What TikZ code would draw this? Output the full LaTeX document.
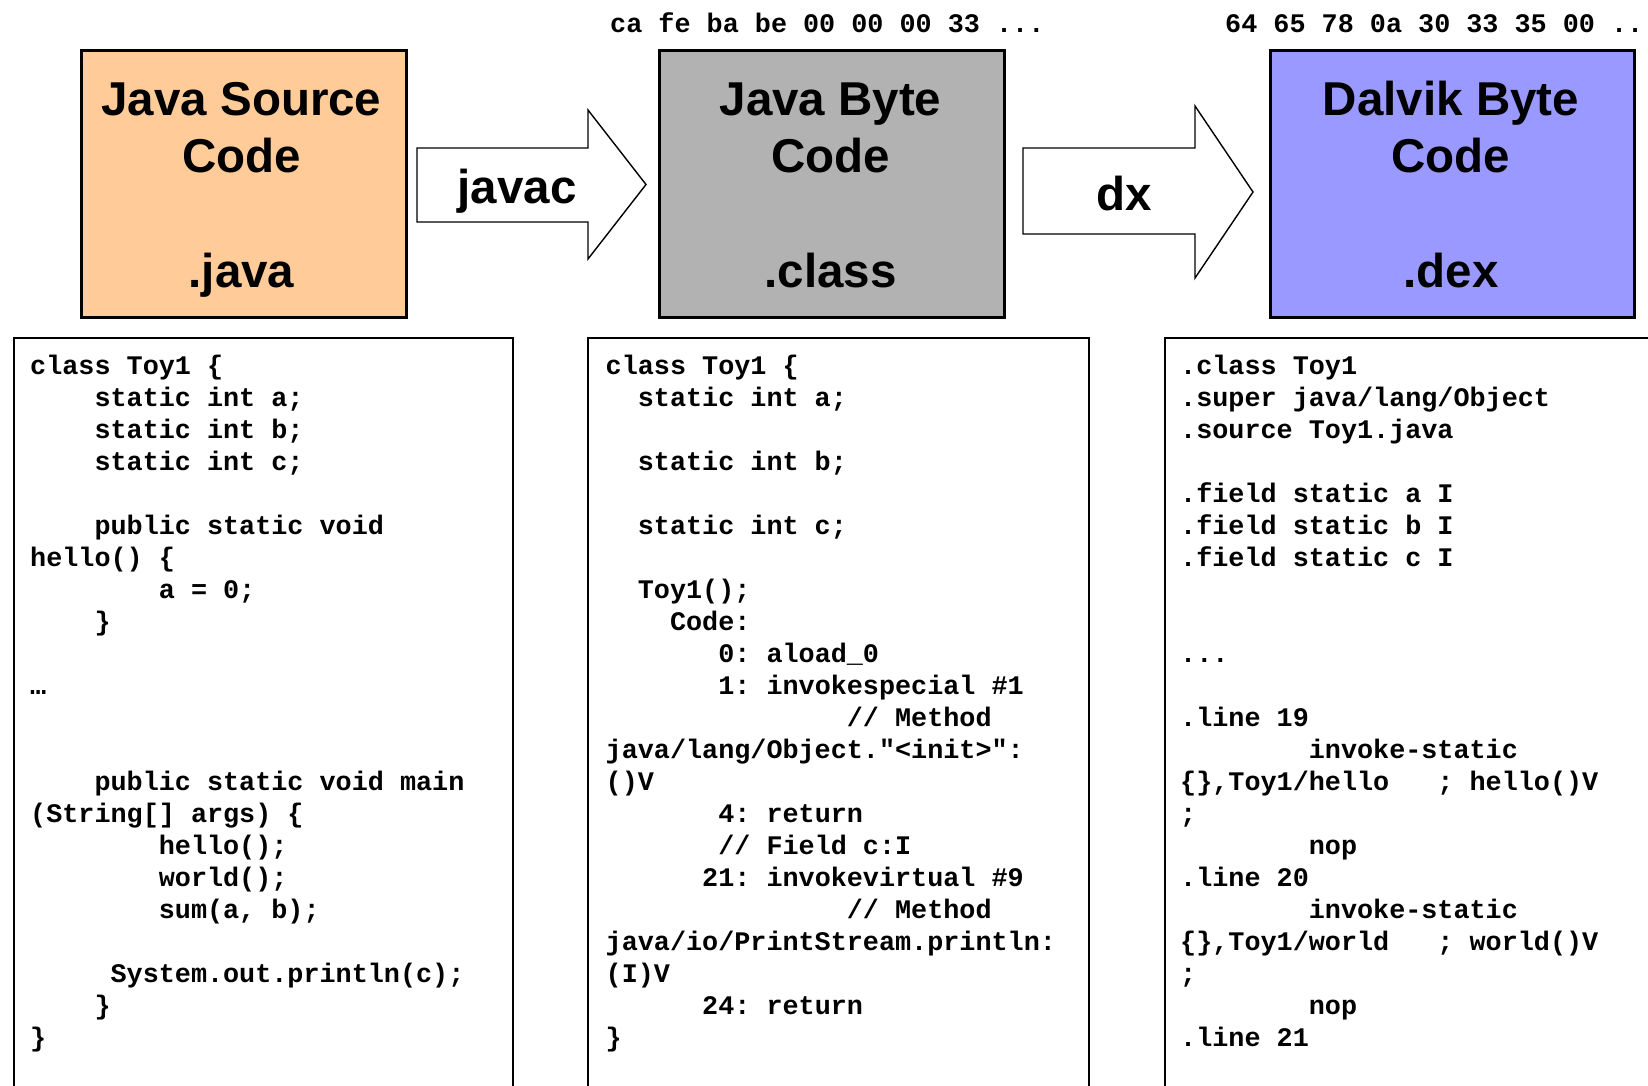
\documentclass[tikz,border=0pt]{standalone}
\usepackage{fontspec}
\setmainfont{Liberation Sans}
\setmonofont{Liberation Mono}
\newfontfamily\headfont{Liberation Sans}
\definecolor{srcfill}{RGB}{255,204,153}
\definecolor{clsfill}{RGB}{178,178,178}
\definecolor{dexfill}{RGB}{153,153,255}
% fixed run of blank character cells
\newcommand\sk[1]{\hspace*{#1\dimexpr 0.6em\relax}}
\tikzset{
  stage/.style={draw=black, line width=3pt, rectangle, inner sep=0pt, anchor=north west},
  title/.style={font=\headfont\bfseries\fontsize{47.5}{57}\selectfont, anchor=base, inner sep=0pt},
  blockarrow/.style={draw=black, line width=1.4pt, fill=white, line join=miter},
  panel/.style={draw=black, line width=1.5pt, rectangle, inner sep=0pt, anchor=north west},
  code/.style={font=\ttfamily\bfseries\fontsize{26.8}{32}\selectfont, anchor=base west, inner sep=0pt},
}
\begin{document}
\begin{tikzpicture}[x=1pt, y=-1pt]
\useasboundingbox (0,0) rectangle (1648,1085);
\clip (0,0) rectangle (1648,1085);

% stage boxes
\node[stage, fill=srcfill, minimum width=325pt, minimum height=267pt] (src) at (80,49) {};
\node[stage, fill=clsfill, minimum width=345pt, minimum height=267pt] (cls) at (658,49) {};
\node[stage, fill=dexfill, minimum width=364pt, minimum height=267pt] (dex) at (1269,49) {};

\node[title] (srct1) at (241.5,115) {Java Source};
\node[title] (srct2) at (241.5,172) {Code};
\node[title] (srct3) at (241.5,287) {.java};
\node[title] (clst1) at (830.5,115) {Java Byte};
\node[title] (clst2) at (830.5,172) {Code};
\node[title] (clst3) at (830.5,287) {.class};
\node[title] (dext1) at (1451,115) {Dalvik Byte};
\node[title] (dext2) at (1451,172) {Code};
\node[title] (dext3) at (1451,287) {.dex};

% compiler arrows
\draw[blockarrow] (417,148) -- (588,148) -- (588,110) -- (646,184.5) -- (588,259) -- (588,222) -- (417,222) -- cycle;
\node[title] (javac) at (517,203) {javac};
\draw[blockarrow] (1023,148) -- (1195,148) -- (1195,106) -- (1253,192) -- (1195,278) -- (1195,234) -- (1023,234) -- cycle;
\node[title] (dx) at (1124,210) {dx};

% file magic bytes
\node[code] (hexcls) at (610,32) {ca fe ba be 00 00 00 33 ...};
\node[code] (hexdex) at (1225,32) {64 65 78 0a 30 33 35 00 ...};

% listing panels (open at the bottom)
\node[panel, minimum width=499pt, minimum height=800pt] (srcpanel) at (13,337) {};
\node[panel, minimum width=501pt, minimum height=800pt] (clspanel) at (587,337) {};
\node[panel, minimum width=600pt, minimum height=800pt] (dexpanel) at (1164,337) {};

% Java source listing
\begin{scope}[shift={(30,374)}, x=16.08pt, y=-32pt]
\node[code] (s0) at (0,0) {class Toy1 \{};
\node[code] (s1) at (4,1) {static int a;};
\node[code] (s2) at (4,2) {static int b;};
\node[code] (s3) at (4,3) {static int c;};
\node[code] (s5) at (4,5) {public static void};
\node[code] (s6) at (0,6) {hello() \{};
\node[code] (s7) at (8,7) {a = 0;};
\node[code] (s8) at (4,8) {\}};
\node[code] (s10) at (0,10) {…};
\node[code] (s13) at (4,13) {public static void main};
\node[code] (s14) at (0,14) {(String[] args) \{};
\node[code] (s15) at (8,15) {hello();};
\node[code] (s16) at (8,16) {world();};
\node[code] (s17) at (8,17) {sum(a, b);};
\node[code] (s19) at (5,19) {System.out.println(c);};
\node[code] (s20) at (4,20) {\}};
\node[code] (s21) at (0,21) {\}};
\end{scope}

% javap listing
\begin{scope}[shift={(605.5,374)}, x=16.08pt, y=-32pt]
\node[code] (b0) at (0,0) {class Toy1 \{};
\node[code] (b1) at (2,1) {static int a;};
\node[code] (b3) at (2,3) {static int b;};
\node[code] (b5) at (2,5) {static int c;};
\node[code] (b7) at (2,7) {Toy1();};
\node[code] (b8) at (4,8) {Code:};
\node[code] (b9) at (7,9) {0: aload\_0};
\node[code] (b10) at (7,10) {1: invokespecial \#1};
\node[code] (b11) at (15,11) {// Method};
\node[code] (b12) at (0,12) {java/lang/Object."<init>":};
\node[code] (b13) at (0,13) {()V};
\node[code] (b14) at (7,14) {4: return};
\node[code] (b15) at (7,15) {// Field c:I};
\node[code] (b16) at (6,16) {21: invokevirtual \#9};
\node[code] (b17) at (15,17) {// Method};
\node[code] (b18) at (0,18) {java/io/PrintStream.println:};
\node[code] (b19) at (0,19) {(I)V};
\node[code] (b20) at (6,20) {24: return};
\node[code] (b21) at (0,21) {\}};
\end{scope}

% dex disassembly
\begin{scope}[shift={(1180,374)}, x=16.08pt, y=-32pt]
\node[code] (d0) at (0,0) {.class Toy1};
\node[code] (d1) at (0,1) {.super java/lang/Object};
\node[code] (d2) at (0,2) {.source Toy1.java};
\node[code] (d4) at (0,4) {.field static a I};
\node[code] (d5) at (0,5) {.field static b I};
\node[code] (d6) at (0,6) {.field static c I};
\node[code] (d9) at (0,9) {...};
\node[code] (d11) at (0,11) {.line 19};
\node[code] (d12) at (8,12) {invoke-static};
\node[code] (d13) at (0,13) {\{\},Toy1/hello\sk{3}; hello()V};
\node[code] (d14) at (0,14) {;};
\node[code] (d15) at (8,15) {nop};
\node[code] (d16) at (0,16) {.line 20};
\node[code] (d17) at (8,17) {invoke-static};
\node[code] (d18) at (0,18) {\{\},Toy1/world\sk{3}; world()V};
\node[code] (d19) at (0,19) {;};
\node[code] (d20) at (8,20) {nop};
\node[code] (d21) at (0,21) {.line 21};
\end{scope}
\end{tikzpicture}
\end{document}
